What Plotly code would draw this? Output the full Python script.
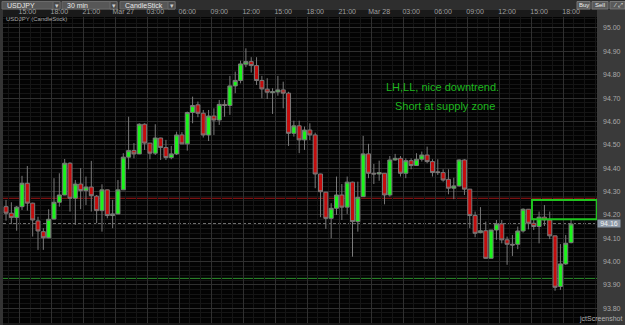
import pandas as pd
import plotly.graph_objects as go

# ---------------- data ----------------
symbol = "USDJPY"
start_time = "2013-03-26 13:30"
n_bars = 107
times = pd.date_range(start_time, periods=n_bars, freq="30min")

opens = [94.235, 94.207, 94.188, 94.235, 94.335, 94.250, 94.174, 94.128, 94.102, 94.182,
         94.254, 94.285, 94.421, 94.271, 94.332, 94.304, 94.319, 94.280, 94.218, 94.307,
         94.197, 94.204, 94.307, 94.447, 94.475, 94.461, 94.588, 94.507, 94.464, 94.529,
         94.488, 94.445, 94.461, 94.542, 94.504, 94.638, 94.671, 94.635, 94.542, 94.623,
         94.606, 94.673, 94.668, 94.752, 94.775, 94.845, 94.856, 94.839, 94.775, 94.738,
         94.723, 94.726, 94.735, 94.721, 94.549, 94.581, 94.521, 94.563, 94.542, 94.375,
         94.297, 94.185, 94.228, 94.285, 94.233, 94.340, 94.171, 94.278, 94.461, 94.378,
         94.375, 94.378, 94.285, 94.435, 94.442, 94.378, 94.432, 94.411, 94.438, 94.456,
         94.428, 94.384, 94.381, 94.352, 94.314, 94.324, 94.435, 94.310, 94.197, 94.124,
         94.132, 94.014, 94.135, 94.161, 94.093, 94.074, 94.074, 94.131, 94.224, 94.164,
         94.150, 94.190, 94.178, 94.110, 93.893, 93.990, 94.081]
highs = [94.264, 94.254, 94.238, 94.367, 94.409, 94.252, 94.192, 94.143, 94.224, 94.357,
         94.378, 94.439, 94.425, 94.349, 94.400, 94.364, 94.431, 94.285, 94.331, 94.308,
         94.264, 94.349, 94.464, 94.620, 94.507, 94.592, 94.592, 94.508, 94.588, 94.530,
         94.521, 94.495, 94.556, 94.554, 94.642, 94.706, 94.685, 94.649, 94.649, 94.656,
         94.692, 94.692, 94.795, 94.813, 94.860, 94.913, 94.875, 94.875, 94.795, 94.785,
         94.742, 94.795, 94.770, 94.727, 94.603, 94.603, 94.578, 94.592, 94.552, 94.376,
         94.298, 94.250, 94.364, 94.332, 94.364, 94.342, 94.342, 94.538, 94.504, 94.418,
         94.432, 94.379, 94.452, 94.461, 94.452, 94.442, 94.442, 94.464, 94.471, 94.492,
         94.438, 94.438, 94.395, 94.395, 94.359, 94.438, 94.438, 94.311, 94.214, 94.233,
         94.171, 94.135, 94.178, 94.178, 94.107, 94.114, 94.150, 94.228, 94.225, 94.185,
         94.214, 94.242, 94.214, 94.111, 94.075, 94.114, 94.181]
lows = [94.175, 94.161, 94.132, 94.221, 94.218, 94.107, 94.050, 94.050, 94.100, 94.180,
        94.235, 94.284, 94.214, 94.157, 94.224, 94.242, 94.214, 94.164, 94.128, 94.185,
        94.143, 94.203, 94.306, 94.395, 94.442, 94.460, 94.478, 94.438, 94.456, 94.435,
        94.435, 94.438, 94.456, 94.503, 94.475, 94.592, 94.618, 94.531, 94.516, 94.542,
        94.585, 94.620, 94.628, 94.721, 94.763, 94.832, 94.809, 94.756, 94.699, 94.696,
        94.632, 94.710, 94.656, 94.495, 94.535, 94.464, 94.478, 94.520, 94.314, 94.190,
        94.140, 94.100, 94.200, 94.178, 94.204, 94.021, 94.128, 94.277, 94.357, 94.332,
        94.346, 94.245, 94.278, 94.432, 94.364, 94.357, 94.395, 94.409, 94.428, 94.421,
        94.364, 94.371, 94.342, 94.288, 94.267, 94.321, 94.285, 94.143, 94.104, 94.121,
        94.013, 94.013, 94.093, 94.078, 93.986, 94.024, 94.053, 94.124, 94.138, 94.135,
        94.078, 94.152, 94.096, 93.875, 93.879, 93.986, 94.078]
closes = [94.207, 94.188, 94.233, 94.335, 94.250, 94.178, 94.131, 94.102, 94.181, 94.254,
          94.285, 94.421, 94.271, 94.332, 94.304, 94.319, 94.282, 94.218, 94.307, 94.197,
          94.204, 94.307, 94.447, 94.475, 94.461, 94.588, 94.507, 94.464, 94.529, 94.488,
          94.445, 94.461, 94.542, 94.504, 94.638, 94.668, 94.635, 94.542, 94.623, 94.606,
          94.673, 94.668, 94.752, 94.775, 94.846, 94.856, 94.839, 94.775, 94.739, 94.725,
          94.727, 94.735, 94.721, 94.549, 94.581, 94.521, 94.563, 94.542, 94.375, 94.299,
          94.185, 94.228, 94.285, 94.233, 94.340, 94.171, 94.275, 94.461, 94.378, 94.375,
          94.381, 94.285, 94.435, 94.442, 94.378, 94.432, 94.411, 94.438, 94.456, 94.428,
          94.381, 94.381, 94.349, 94.314, 94.324, 94.435, 94.310, 94.197, 94.121, 94.132,
          94.014, 94.135, 94.161, 94.093, 94.074, 94.071, 94.131, 94.224, 94.164, 94.150,
          94.190, 94.178, 94.110, 93.890, 93.990, 94.078, 94.161]

# reference levels drawn on the chart
resistance_level = 94.271
support_level = 93.928
last_price = closes[-1]
zone_low, zone_high = 94.181, 94.264
zone_start, zone_end = "2013-03-28 15:05", "2013-03-28 21:10"

# axis ticks
x_tick_times = ["2013-03-26 15:00", "2013-03-26 18:00", "2013-03-26 21:00",
                "2013-03-27 00:00", "2013-03-27 03:00", "2013-03-27 06:00",
                "2013-03-27 09:00", "2013-03-27 12:00", "2013-03-27 15:00",
                "2013-03-27 18:00", "2013-03-27 21:00", "2013-03-28 00:00",
                "2013-03-28 03:00", "2013-03-28 06:00", "2013-03-28 09:00",
                "2013-03-28 12:00", "2013-03-28 15:00", "2013-03-28 18:00"]
x_tick_labels = ["15:00", "18:00", "21:00", "Mar 27", "03:00", "06:00", "09:00", "12:00",
                 "15:00", "18:00", "21:00", "Mar 28", "03:00", "06:00", "09:00", "12:00",
                 "15:00", "18:00"]
y_ticks = [93.8, 93.9, 94.0, 94.1, 94.2, 94.3, 94.4, 94.5, 94.6, 94.7, 94.8, 94.9, 95.0]
y_tick_labels = ["93.80", "93.90", "94.00", "94.10", "94.20", "94.30", "94.40", "94.50",
                 "94.60", "94.70", "94.80", "94.90", "95.00"]

note_line1 = "LH,LL, nice downtrend."
note_line2 = "Short at supply zone"

# ---------------- figure ----------------
FONT = "Liberation Sans, Arial, sans-serif"
fig = go.Figure()
fig.add_trace(go.Candlestick(
    x=times, open=opens, high=highs, low=lows, close=closes,
    xperiod=1800000, xperiodalignment="middle",
    increasing=dict(fillcolor="#19f519", line=dict(color="#7a7a7a", width=1)),
    decreasing=dict(fillcolor="#c40c0c", line=dict(color="#7a7a7a", width=1)),
    whiskerwidth=0, hoverinfo="skip", name=symbol,
))

W_PLOT, H_PLOT, L_M, T_M = 594, 306, 3, 17


def px_x(px):
    return (px - L_M) / W_PLOT


def px_y(py):
    return (T_M + H_PLOT - py) / H_PLOT


shapes = []
# top toolbar
shapes.append(dict(type="rect", xref="paper", yref="paper", x0=px_x(0), x1=px_x(625),
                   y0=px_y(10), y1=px_y(-2), fillcolor="#2e2e2e", line_width=0, layer="below"))
# right price panel
shapes.append(dict(type="rect", xref="paper", yref="paper", x0=px_x(597), x1=px_x(626),
                   y0=px_y(326), y1=px_y(10), fillcolor="#3a3a3a", line_width=0, layer="below"))
# left border strip
shapes.append(dict(type="rect", xref="paper", yref="paper", x0=px_x(-1), x1=px_x(3),
                   y0=px_y(326), y1=px_y(10), fillcolor="#333333", line_width=0, layer="below"))
# dropdown boxes
for (bx0, bx1) in [(2, 60), (62, 117), (120, 175)]:
    shapes.append(dict(type="rect", xref="paper", yref="paper", x0=px_x(bx0), x1=px_x(bx1),
                       y0=px_y(9), y1=px_y(1.5), fillcolor="#575757",
                       line=dict(color="#6a6a6a", width=1), layer="below"))
    shapes.append(dict(type="rect", xref="paper", yref="paper", x0=px_x(bx1 - 7), x1=px_x(bx1),
                       y0=px_y(9), y1=px_y(1.5), fillcolor="#4a4a4a",
                       line=dict(color="#6a6a6a", width=1), layer="below"))
# buttons
for (bx0, bx1) in [(577, 590), (592, 608), (610, 625)]:
    shapes.append(dict(type="rect", xref="paper", yref="paper", x0=px_x(bx0), x1=px_x(bx1),
                       y0=px_y(9), y1=px_y(1.5), fillcolor="#5a5a5a",
                       line=dict(color="#777777", width=1), layer="below"))
# levels
shapes.append(dict(type="line", xref="paper", yref="y", x0=0, x1=1, y0=resistance_level,
                   y1=resistance_level, line=dict(color="#a01818", width=1), layer="between"))
shapes.append(dict(type="line", xref="paper", yref="y", x0=0, x1=1, y0=support_level,
                   y1=support_level, line=dict(color="#2e8f2e", width=1), layer="between"))
shapes.append(dict(type="line", xref="paper", yref="y", x0=0, x1=1, y0=last_price,
                   y1=last_price, line=dict(color="#c8c8c8", width=1, dash="3px,2px"),
                   layer="between"))
shapes.append(dict(type="rect", xref="x", yref="y", x0=zone_start, x1=zone_end,
                   y0=zone_low, y1=zone_high, line=dict(color="#1fc41f", width=2),
                   fillcolor="rgba(0,0,0,0)", layer="above"))

ann = []
ann.append(dict(x="2013-03-28 01:12", y=94.746, xref="x", yref="y", text=note_line1,
                xanchor="left", yanchor="middle", showarrow=False,
                font=dict(family=FONT, size=11, color="#1fb81f")))
ann.append(dict(x="2013-03-28 02:01", y=94.666, xref="x", yref="y", text=note_line2,
                xanchor="left", yanchor="middle", showarrow=False,
                font=dict(family=FONT, size=11, color="#1fb81f")))
ann.append(dict(x=px_x(4), y=px_y(19.5), xref="paper", yref="paper",
                text=f"{symbol} (CandleStick)", xanchor="left", yanchor="middle",
                showarrow=False, font=dict(family=FONT, size=6, color="#a8a8a8")))
ann.append(dict(x=1.0, y=last_price, xref="paper", yref="y", text=f"{last_price:.2f}",
                xanchor="left", yanchor="middle", showarrow=False, bgcolor="#8c98a6",
                width=22, borderpad=0, font=dict(family=FONT, size=7, color="#f2f2f2")))
for (tx, label) in [(5, symbol), (65, "30 min"), (123, "CandleStick")]:
    ann.append(dict(x=px_x(tx), y=px_y(5.3), xref="paper", yref="paper", text=label,
                    xanchor="left", yanchor="middle", showarrow=False,
                    font=dict(family=FONT, size=7, color="#e8e8e8")))
for bx1 in [60, 117, 175]:
    ann.append(dict(x=px_x(bx1 - 3.5), y=px_y(5.3), xref="paper", yref="paper", text="▾",
                    xanchor="center", yanchor="middle", showarrow=False,
                    font=dict(family=FONT, size=7, color="#cccccc")))
for (cx, label) in [(583.5, "Buy"), (600, "Sell"), (617.5, "⁄ ⤢")]:
    ann.append(dict(x=px_x(cx), y=px_y(5.3), xref="paper", yref="paper", text=label,
                    xanchor="center", yanchor="middle", showarrow=False,
                    font=dict(family=FONT, size=6, color="#eeeeee")))
ann.append(dict(x=px_x(624), y=px_y(319), xref="paper", yref="paper", text="jctScreenshot",
                xanchor="right", yanchor="middle", showarrow=False,
                font=dict(family=FONT, size=7, color="#b0b0b0")))

fig.update_layout(
    width=625, height=325,
    margin=dict(l=L_M, r=28, t=T_M, b=2, pad=0),
    paper_bgcolor="#1a1a1a", plot_bgcolor="#030303",
    showlegend=False, shapes=shapes, annotations=ann,
    font=dict(family=FONT), boxgap=0.25, boxgroupgap=0,
)
fig.update_xaxes(
    type="date", side="top", range=["2013-03-26 13:28", "2013-03-28 21:11"],
    rangeslider_visible=False, tickvals=x_tick_times, ticktext=x_tick_labels,
    tickfont=dict(family=FONT, size=7, color="#a0a0a0"), ticks="",
    ticklabelshift=8, ticklabelstandoff=1,
    showgrid=True, gridcolor="#2f2f2f", gridwidth=1, zeroline=False, showline=False,
    minor=dict(dtick=3600000, tick0="2013-03-26 00:00", showgrid=True,
               gridcolor="#151515", gridwidth=1),
)
fig.update_yaxes(
    side="right", range=[93.737, 95.047], tickvals=y_ticks, ticktext=y_tick_labels,
    tickfont=dict(family=FONT, size=7, color="#a8a8a8"), ticks="", ticklabelstandoff=5,
    showgrid=True, gridcolor="#2f2f2f", gridwidth=1, zeroline=False, showline=False,
    minor=dict(dtick=0.02, tick0=93.7, showgrid=True, gridcolor="#151515", gridwidth=1),
)

fig.write_html("out.html")
